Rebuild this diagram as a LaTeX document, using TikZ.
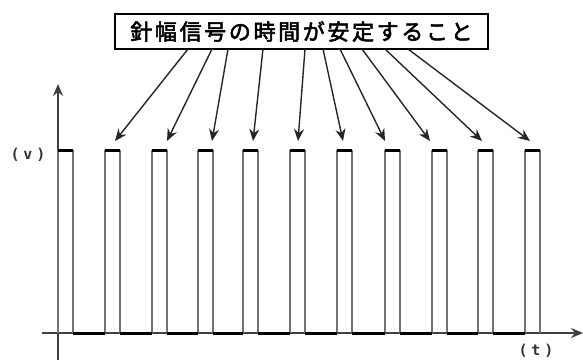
\documentclass[tikz,border=0pt]{standalone}
\usepackage{fontspec}
\newfontfamily\cjk[AutoFakeBold=2.5]{Noto Sans CJK JP}
\newfontfamily\lbl[LetterSpace=25]{DejaVu Sans Mono}
\usetikzlibrary{arrows.meta}
\tikzset{
  axisline/.style={line width=1.6pt, draw=black!75, -{Stealth[length=12pt,width=10pt]}},
  sideline/.style={line width=1.4pt, draw=black!55},
  levelline/.style={line width=3pt, draw=black},
  pointer/.style={line width=1.4pt, draw=black!85, -{Stealth[length=12pt,width=10pt]}},
  titlebox/.style={draw, line width=1.5pt, minimum width=373pt, minimum height=35pt, inner sep=0pt, font=\cjk\bfseries\fontsize{22}{24}\selectfont},
  unitlabel/.style={font=\fontsize{15}{17}\selectfont\lbl\bfseries, inner sep=0pt, text=black!80}
}
\begin{document}
\begin{tikzpicture}[x=1pt,y=-1pt]
\useasboundingbox (0,0) rectangle (583,360);
% title
\node[titlebox] (title) at (301.5,31.5) {\addfontfeature{LetterSpace=12}針幅信号の時間が安定すること};
% axes
\coordinate (yb) at (58,360);
\coordinate (yt) at (58,84);
\coordinate (xl) at (42,333);
\coordinate (xr) at (583,333);
\draw[axisline] (yb) -- (yt);
\draw[axisline] (xl) -- (xr);
\node[unitlabel] (v) at (28,155) {(v)};
\node[unitlabel] (t) at (536,351) {(t)};
% pulses
\foreach \l [count=\i] in {58,105,152,198,243,290,337,385,432,478,525}{
  \coordinate (p\i tl) at (\l,150);
  \coordinate (p\i tr) at (\l+15,150);
  \coordinate (p\i bl) at (\l,333);
  \coordinate (p\i br) at (\l+15,333);
  \draw[sideline] (p\i bl) -- (p\i tl);
  \draw[sideline] (p\i br) -- (p\i tr);
  \draw[levelline] (p\i tl) -- (p\i tr);
}
\foreach \i [evaluate=\i as \j using int(\i+1)] in {1,...,10}{
  \draw[levelline] (p\i br) -- (p\j bl);
}
% arrows
\foreach \s/\e [count=\k] in {188/115,212/167,228/212,263/253,305/298,323/343,340/385,362/430,385/482,408/530}{
  \coordinate (as\k) at (\s,49);
  \coordinate (ae\k) at (\e,141);
  \draw[pointer] (as\k) -- (ae\k);
}
\end{tikzpicture}
\end{document}
